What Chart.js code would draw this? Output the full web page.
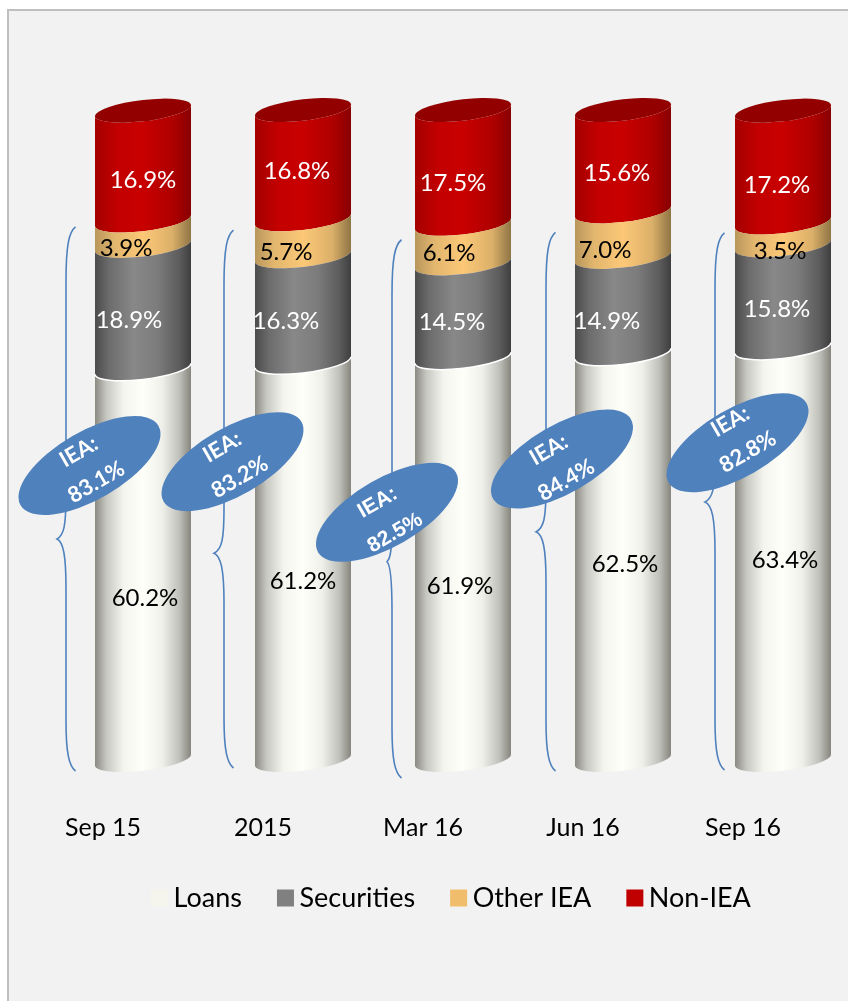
<!DOCTYPE html>
<html lang="en">
<head>
  <meta charset="UTF-8">
  <title>Asset mix</title>
  <script src="https://cdn.jsdelivr.net/npm/chart.js"></script>
  <style>
    html, body { margin: 0; height: 100%; overflow: hidden; background: #fff; }
    #frame { position: absolute; left: 7px; top: 9px; width: 1000px; height: 1100px;
             background: #f2f2f2; border-left: 2px solid #bfbfbf; border-top: 2px solid #bfbfbf; }
    #mix { position: absolute; left: 8px; top: 10px; }
  </style>
</head>
<body>
  <div id="frame"></div>
  <canvas id="mix" width="870" height="1000"></canvas>

  <script>
    const periods = ['Sep 15', '2015', 'Mar 16', 'Jun 16', 'Sep 16'];
    const loans = [60.2, 61.2, 61.9, 62.5, 63.4];
    const securities = [18.9, 16.3, 14.5, 14.9, 15.8];
    const otherIea = [3.9, 5.7, 6.1, 7.0, 3.5];
    const nonIea = [16.9, 16.8, 17.5, 15.6, 17.2];
    const ieaShare = [83.1, 83.2, 82.5, 84.4, 82.8];

    // hand placement of the value labels, px from the middle of each segment
    const labelNudge = {
      Loans: [[2, 34], [0, 20], [-3, 27], [2, 7], [2, 6]],
      Securities: [[-14, 13], [-17, 12], [-11, 12], [-16, 16], [-6, 13]],
      'Other IEA': [[-17, 15], [-17, 15], [-14, 10], [-18, 16], [-3, 17]],
      'Non-IEA': [[0, 15], [-6, 7], [-10, 16], [-6, 13], [-6, 19]]
    };

    // blue callouts: px left of the bar, level on the y axis, text shift
    const calloutDx = [-53.5, -70.5, -76, -61, -45.5];
    const calloutLevel = [45.3, 45.9, 38.1, 46.3, 48.8];
    const calloutText = [[-2, 1.5], [-1.5, 0.5], [-0.5, 5.5], [-4.5, 6], [1.5, -6]];
    const calloutFont = ['bold 22px Lato', 'bold 22px Lato', 'bold 21px "Liberation Sans"', 'bold 22px Lato', 'bold 22px Lato'];

    // braces next to each bar
    const braceDx = [-77, -79, -71, -77, -68];
    const braceTipLevel = [34, 31.8, 30.5, 35.1, 39.7];
    const braceTipSize = [9, 10, 5, 10, 10];
    const braceTopPad = [7, 11, 16, 21, 11];
    const braceBottomPad = [11, 8, 18, 11, 10];

    const TILT = 5.5;     // drop of the rim from right side to left side
    const RIM = 10.7;     // half height of the rim ellipse

    const shades = {
      Loans: [[0, '#8a8a82'], [0.12, '#c8c8c2'], [0.3, '#f5f5ef'], [0.5, '#fffff9'], [0.7, '#f0f0ea'], [0.88, '#c0c0ba'], [1, '#85857d']],
      Securities: [[0, '#4c4c4c'], [0.15, '#6c6c6c'], [0.4, '#888888'], [0.65, '#7c7c7c'], [0.88, '#5c5c5c'], [1, '#3e3e3e']],
      'Other IEA': [[0, '#b8965c'], [0.2, '#e2b66e'], [0.5, '#fcc877'], [0.8, '#dcb06a'], [1, '#8f7545']],
      'Non-IEA': [[0, '#a40000'], [0.25, '#c40000'], [0.5, '#c80000'], [0.8, '#b00000'], [1, '#880000']]
    };

    function shear(ctx, cx, half) {
      const s = TILT / half;
      ctx.transform(1, -s, 0, 1, 0, s * cx);
    }

    function sideGradient(ctx, bar, stops) {
      const half = bar.width / 2;
      const g = ctx.createLinearGradient(bar.x - half, 0, bar.x + half, 0);
      stops.forEach(s => g.addColorStop(s[0], s[1]));
      return g;
    }

    function drawSegment(ctx, bar, name, i) {
      const half = bar.width / 2;
      ctx.save();
      ctx.beginPath();
      ctx.save();
      shear(ctx, bar.x, half);
      ctx.ellipse(bar.x, bar.y, half, RIM, 0, Math.PI, 0, true);
      ctx.ellipse(bar.x, bar.base, half, RIM, 0, 0, Math.PI, false);
      ctx.closePath();
      ctx.restore();
      ctx.fillStyle = sideGradient(ctx, bar, shades[name]);
      ctx.fill();

      if (name === 'Loans') {
        // thin light edge where the white part meets the grey
        ctx.beginPath();
        ctx.save();
        shear(ctx, bar.x, half);
        ctx.ellipse(bar.x, bar.y, half, RIM, 0, Math.PI, 0, true);
        ctx.restore();
        ctx.strokeStyle = '#ffffff';
        ctx.lineWidth = 1.5;
        ctx.stroke();
      }
      if (name === 'Non-IEA') {
        ctx.beginPath();
        ctx.save();
        shear(ctx, bar.x, half);
        ctx.ellipse(bar.x, bar.y, half, RIM, 0, 0, Math.PI * 2);
        ctx.restore();
        ctx.fillStyle = '#930000';
        ctx.fill();
      }
      ctx.restore();
    }

    function drawBrace(ctx, x, top, tip, bottom, size) {
      ctx.beginPath();
      ctx.moveTo(x + 9.5, top);
      ctx.bezierCurveTo(x + 3, top + 5, x, top + 18, x, top + 55);
      ctx.lineTo(x, tip - 45);
      ctx.bezierCurveTo(x, tip - 14, x - size * 0.2, tip - 4, x - size, tip);
      ctx.bezierCurveTo(x - size * 0.3, tip + 3, x, tip + 16, x, tip + 50);
      ctx.lineTo(x, bottom - 50);
      ctx.bezierCurveTo(x, bottom - 18, x + 3, bottom - 5, x + 9.5, bottom);
      ctx.strokeStyle = '#4f81bd';
      ctx.lineWidth = 1.6;
      ctx.stroke();
    }

    function drawCallout(ctx, x, y, i) {
      ctx.save();
      ctx.translate(x, y);
      ctx.rotate(-30 * Math.PI / 180);
      ctx.beginPath();
      ctx.ellipse(0, 0, 79.6, 34, 0, 0, Math.PI * 2);
      ctx.fillStyle = '#4f81bd';
      ctx.fill();
      ctx.restore();

      ctx.save();
      ctx.translate(x + calloutText[i][0], y + calloutText[i][1]);
      ctx.rotate(-30 * Math.PI / 180);
      ctx.font = calloutFont[i];
      ctx.fillStyle = '#ffffff';
      ctx.textAlign = 'center';
      ctx.textBaseline = 'middle';
      ctx.fillText('IEA:', 0, -17.5);
      ctx.fillText(ieaShare[i].toFixed(1) + '%', 0, 17.5);
      ctx.restore();
    }

    const cylinders = {
      id: 'cylinders',
      // the legend sits a little left of the plot centre
      afterLayout(chart) {
        chart.legend.left -= 8;
        chart.legend.right -= 8;
      },
      // the bars themselves are painted as cylinder slices
      beforeDatasetDraw(chart, args) {
        const name = chart.data.datasets[args.index].label;
        args.meta.data.forEach((bar, i) => drawSegment(chart.ctx, bar, name, i));
        return false;
      },
      afterDatasetsDraw(chart) {
        const ctx = chart.ctx;
        const y = chart.scales.y;

        ctx.save();
        ctx.font = '24px Lato';
        ctx.textAlign = 'center';
        ctx.textBaseline = 'middle';
        chart.data.datasets.forEach((ds, d) => {
          chart.getDatasetMeta(d).data.forEach((bar, i) => {
            const nudge = labelNudge[ds.label][i];
            ctx.fillStyle = ds.labelColor;
            ctx.fillText(ds.data[i].toFixed(1) + '%', bar.x + nudge[0], (bar.y + bar.base) / 2 + nudge[1]);
          });
        });
        ctx.restore();

        const bars = chart.getDatasetMeta(0).data;
        bars.forEach((bar, i) => {
          drawBrace(ctx, bar.x + braceDx[i], y.getPixelForValue(ieaShare[i]) + braceTopPad[i],
            y.getPixelForValue(braceTipLevel[i]), y.getPixelForValue(0) + braceBottomPad[i], braceTipSize[i]);
        });
        bars.forEach((bar, i) => {
          drawCallout(ctx, bar.x + calloutDx[i], y.getPixelForValue(calloutLevel[i]), i);
        });
      }
    };

    new Chart(document.getElementById('mix'), {
      type: 'bar',
      plugins: [cylinders],
      data: {
        labels: periods,
        datasets: [
          { label: 'Loans', data: loans, backgroundColor: '#f5f5ee', labelColor: '#000000' },
          { label: 'Securities', data: securities, backgroundColor: '#808080', labelColor: '#ffffff' },
          { label: 'Other IEA', data: otherIea, backgroundColor: '#f0bd6c', labelColor: '#000000' },
          { label: 'Non-IEA', data: nonIea, backgroundColor: '#c00000', labelColor: '#ffffff' }
        ]
      },
      options: {
        responsive: false,
        animation: false,
        barPercentage: 0.6,
        categoryPercentage: 1,
        layout: { padding: { left: 55, right: 15, top: 100, bottom: 88.5 } },
        scales: {
          x: {
            stacked: true,
            grid: { display: false },
            border: { display: false },
            afterFit(scale) { scale.height = 81.5; },
            ticks: {
              autoSkip: false,
              maxRotation: 0,
              labelOffset: -40,
              padding: 45,
              color: '#000000',
              font: { family: 'Lato', size: 25 }
            }
          },
          y: { stacked: true, display: false, min: 0, max: 100 }
        },
        plugins: {
          tooltip: { enabled: false },
          legend: {
            position: 'bottom',
            labels: {
              // narrow point box keeps the text close to its swatch
              usePointStyle: true,
              pointStyle: 'rect',
              boxWidth: 1,
              boxHeight: 17,
              padding: 43,
              color: '#000000',
              font: { family: 'Lato', size: 27 }
            }
          }
        }
      }
    });
  </script>
</body>
</html>
